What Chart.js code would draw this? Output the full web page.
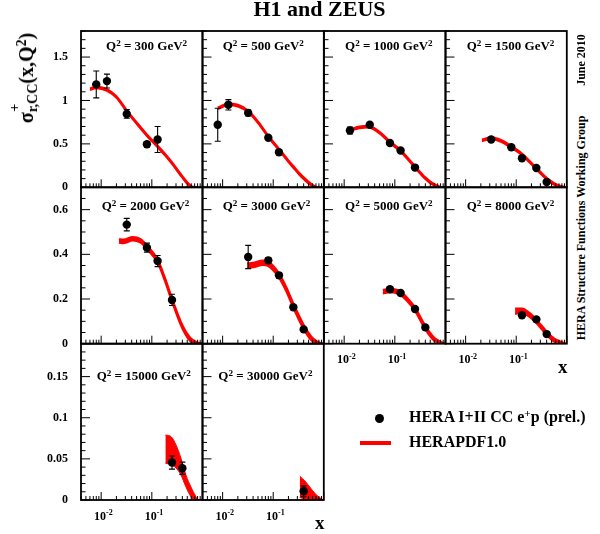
<!DOCTYPE html>
<html>
<head>
<meta charset="utf-8">
<title>H1 and ZEUS</title>
<script src="https://cdn.jsdelivr.net/npm/chart.js@4.4.1/dist/chart.umd.min.js"></script>
<style>
html,body{margin:0;padding:0;background:#fff;}
body{width:600px;height:534px;position:relative;overflow:hidden;font-family:'Liberation Serif','Times New Roman',serif;font-weight:bold;color:#000;}
canvas{position:absolute;}
.t{position:absolute;white-space:nowrap;line-height:1;}
.t sup,.rot sup{font-size:0.7em;vertical-align:0.48em;line-height:0;}
.rot{position:absolute;white-space:nowrap;line-height:1;transform:translate(-50%,-50%) rotate(-90deg);}
.ss{position:relative;display:inline-block;line-height:1;}
.ssb{font-size:0.7em;position:relative;top:0.3em;}
.ssp{position:absolute;left:0.05em;top:-0.55em;font-size:0.7em;}
</style>
</head>
<body>
<script>
// ---------------- DATA ----------------
const Q2 = [300, 500, 1000, 1500, 2000, 3000, 5000, 8000, 15000, 30000];

// HERA I+II CC e+p (prel.) : x, reduced cross section, error
const x300 = [0.008, 0.013, 0.032, 0.08, 0.13];
const s300 = [1.185, 1.223, 0.845, 0.496, 0.55];
const e300 = [0.155, 0.08, 0.05, 0.03, 0.15];

const x500 = [0.008, 0.013, 0.032, 0.08, 0.13];
const s500 = [0.72, 0.95, 0.857, 0.57, 0.404];
const e500 = [0.19, 0.06, 0.035, 0.02, 0.03];

const x1000 = [0.013, 0.032, 0.08, 0.13, 0.25];
const s1000 = [0.654, 0.72, 0.51, 0.423, 0.227];
const e1000 = [0.04, 0.02, 0.02, 0.02, 0.02];

const x1500 = [0.032, 0.08, 0.13, 0.25, 0.4];
const s1500 = [0.55, 0.461, 0.334, 0.223, 0.061];
const e1500 = [0.02, 0.02, 0.02, 0.02, 0.02];

const x2000 = [0.032, 0.08, 0.13, 0.25];
const s2000 = [0.533, 0.43, 0.37, 0.196];
const e2000 = [0.028, 0.02, 0.025, 0.025];

const x3000 = [0.032, 0.08, 0.13, 0.25, 0.4];
const s3000 = [0.388, 0.373, 0.306, 0.163, 0.064];
const e3000 = [0.052, 0.013, 0.013, 0.01, 0.01];

const x5000 = [0.08, 0.13, 0.25, 0.4];
const s5000 = [0.244, 0.227, 0.155, 0.073];
const e5000 = [0.012, 0.008, 0.008, 0.008];

const x8000 = [0.13, 0.25, 0.4];
const s8000 = [0.127, 0.109, 0.043];
const e8000 = [0.01, 0.01, 0.01];

const x15000 = [0.25, 0.4];
const s15000 = [0.0455, 0.0386];
const e15000 = [0.008, 0.0075];

const x30000 = [0.4];
const s30000 = [0.0106];
const e30000 = [0.0066];

// HERAPDF1.0 band : x, lower edge, upper edge
const bx300 = [0.006, 0.008, 0.013, 0.02, 0.032, 0.05, 0.08, 0.13, 0.2, 0.25, 0.4, 0.5, 0.62, 0.8];
const bhi300 = [1.14, 1.16, 1.13, 1.05, 0.89, 0.75, 0.61, 0.48, 0.36, 0.29, 0.13, 0.06, 0.01, 0];
const blo300 = [1.12, 1.14, 1.11, 1.03, 0.87, 0.73, 0.59, 0.46, 0.34, 0.27, 0.11, 0.04, 0, 0];

const bx500 = [0.008, 0.013, 0.02, 0.032, 0.05, 0.08, 0.13, 0.2, 0.25, 0.325, 0.4, 0.55, 0.72, 0.9];
const bhi500 = [0.92, 0.965, 0.95, 0.885, 0.76, 0.595, 0.445, 0.31, 0.245, 0.168, 0.115, 0.045, 0.005, 0];
const blo500 = [0.90, 0.945, 0.93, 0.865, 0.74, 0.575, 0.425, 0.29, 0.225, 0.148, 0.095, 0.025, 0, 0];

const bx1000 = [0.014, 0.02, 0.03, 0.05, 0.08, 0.13, 0.25, 0.4, 0.55, 0.8, 0.95];
const bhi1000 = [0.675, 0.70, 0.71, 0.64, 0.53, 0.43, 0.245, 0.115, 0.05, 0.005, 0];
const blo1000 = [0.655, 0.68, 0.69, 0.62, 0.51, 0.41, 0.225, 0.095, 0.03, 0, 0];

const bx1500 = [0.021, 0.032, 0.05, 0.08, 0.13, 0.25, 0.4, 0.6, 0.9, 1.0];
const bhi1500 = [0.55, 0.575, 0.545, 0.475, 0.39, 0.225, 0.11, 0.04, 0.005, 0];
const blo1500 = [0.53, 0.555, 0.525, 0.455, 0.37, 0.205, 0.09, 0.02, 0, 0];

const bx2000 = [0.0224, 0.028, 0.042, 0.06, 0.08, 0.13, 0.18, 0.25, 0.4, 0.6, 0.86, 1.0];
const bhi2000 = [0.468, 0.466, 0.478, 0.468, 0.44, 0.378, 0.298, 0.204, 0.084, 0.022, 0.003, 0];
const blo2000 = [0.452, 0.450, 0.462, 0.452, 0.424, 0.362, 0.282, 0.188, 0.068, 0.008, 0, 0];

const bx3000 = [0.0306, 0.04, 0.062, 0.08, 0.13, 0.18, 0.25, 0.4, 0.6, 0.86, 1.0];
const bhi3000 = [0.36, 0.362, 0.372, 0.367, 0.315, 0.255, 0.18, 0.085, 0.026, 0.003, 0];
const blo3000 = [0.34, 0.342, 0.352, 0.347, 0.295, 0.235, 0.16, 0.065, 0.01, 0, 0];

const bx5000 = [0.058, 0.08, 0.1, 0.13, 0.18, 0.25, 0.4, 0.6, 0.9, 1.0];
const bhi5000 = [0.241, 0.246, 0.244, 0.233, 0.203, 0.163, 0.080, 0.027, 0.003, 0];
const blo5000 = [0.225, 0.230, 0.228, 0.217, 0.187, 0.147, 0.064, 0.013, 0, 0];

const bx8000 = [0.095, 0.13, 0.18, 0.25, 0.4, 0.6, 0.95, 1.0];
const bhi8000 = [0.157, 0.157, 0.139, 0.108, 0.055, 0.019, 0.002, 0];
const blo8000 = [0.133, 0.137, 0.121, 0.092, 0.039, 0.005, 0, 0];

const bx15000 = [0.185, 0.24, 0.3, 0.375, 0.47, 0.59, 0.67, 0.86, 1.0];
const bhi15000 = [0.079, 0.077, 0.067, 0.051, 0.0305, 0.016, 0.009, 0, 0];
const blo15000 = [0.0447, 0.043, 0.039, 0.0305, 0.016, 0.004, 0, 0, 0];

const bx30000 = [0.335, 0.44, 0.59, 0.75, 0.93, 1.0];
const bhi30000 = [0.029, 0.022, 0.012, 0.005, 0.001, 0];
const blo30000 = [0.003, 0.001, 0, 0, 0, 0];

// axes
const yMaxRow = [1.8, 0.7, 0.19];
const yTicksRow = [[0, 0.5, 1, 1.5], [0, 0.2, 0.4, 0.6], [0, 0.05, 0.1, 0.15]];
const yTickLabelsRow = [['0', '0.5', '1', '1.5'], ['0', '0.2', '0.4', '0.6'], ['0', '0.05', '0.1', '0.15']];
const yMinorRow = [0.1, 0.05, 0.01];
const xMin = 0.004, xMax = 1;
const xTicks = [0.01, 0.1];
const xTickLabels = [['10', '-2'], ['10', '-1']];

// ---------------- LAYOUT / STYLE ----------------
const RED = '#ff0000';
const FONT = "'Liberation Serif','Times New Roman',serif";
const gridLeft = 81, colW = 121.5;
const rowTops = [31, 187.3, 343.7, 500];
const labelLeft = [106, 222.7, 345, 466.7, 101.7, 222.7, 345, 466.7, 96.7, 218.3];
const labelBase = [49.5, 210, 379.5];

const panels = [
  {q: Q2[0], px: x300, py: s300, pe: e300, bx: bx300, lo: blo300, hi: bhi300},
  {q: Q2[1], px: x500, py: s500, pe: e500, bx: bx500, lo: blo500, hi: bhi500},
  {q: Q2[2], px: x1000, py: s1000, pe: e1000, bx: bx1000, lo: blo1000, hi: bhi1000},
  {q: Q2[3], px: x1500, py: s1500, pe: e1500, bx: bx1500, lo: blo1500, hi: bhi1500},
  {q: Q2[4], px: x2000, py: s2000, pe: e2000, bx: bx2000, lo: blo2000, hi: bhi2000},
  {q: Q2[5], px: x3000, py: s3000, pe: e3000, bx: bx3000, lo: blo3000, hi: bhi3000},
  {q: Q2[6], px: x5000, py: s5000, pe: e5000, bx: bx5000, lo: blo5000, hi: bhi5000},
  {q: Q2[7], px: x8000, py: s8000, pe: e8000, bx: bx8000, lo: blo8000, hi: bhi8000},
  {q: Q2[8], px: x15000, py: s15000, pe: e15000, bx: bx15000, lo: blo15000, hi: bhi15000},
  {q: Q2[9], px: x30000, py: s30000, pe: e30000, bx: bx30000, lo: blo30000, hi: bhi30000}
];

function addText(html, x, baseline, size, align, cls) {
  const d = document.createElement('div');
  d.className = cls || 't';
  d.innerHTML = html;
  d.style.fontSize = size + 'px';
  d.style.left = x + 'px';
  d.style.top = (baseline - 0.8375 * size) + 'px';
  if (align === 'center') d.style.transform = 'translateX(-50%)';
  if (align === 'right') d.style.transform = 'translateX(-100%)';
  document.body.appendChild(d);
  return d;
}
function addRot(html, cx, cy, size) {
  const d = document.createElement('div');
  d.className = 'rot';
  d.innerHTML = html;
  d.style.fontSize = size + 'px';
  d.style.left = cx + 'px';
  d.style.top = cy + 'px';
  document.body.appendChild(d);
  return d;
}

function makePlugin(p, row, showX) {
  return {
    id: 'rootAxes',
    afterDatasetsDraw(chart) {
      const {ctx, scales: {x, y}} = chart;
      ctx.save();
      ctx.strokeStyle = '#000';
      ctx.lineWidth = 1.1;
      p.px.forEach((xv, i) => {
        const X = x.getPixelForValue(xv);
        const yt = y.getPixelForValue(p.py[i] + p.pe[i]);
        const yb = y.getPixelForValue(p.py[i] - p.pe[i]);
        if (yb - yt < 5) return;
        ctx.beginPath();
        ctx.moveTo(X, yt); ctx.lineTo(X, yb);
        ctx.moveTo(X - 3, yt); ctx.lineTo(X + 3, yt);
        ctx.moveTo(X - 3, yb); ctx.lineTo(X + 3, yb);
        ctx.stroke();
      });
      ctx.restore();
    },
    afterDraw(chart) {
      const {ctx, chartArea: a, scales: {x, y}} = chart;
      ctx.save();
      ctx.strokeStyle = '#000';
      ctx.lineWidth = 1;
      ctx.beginPath();
      const maj = yTicksRow[row][1];
      const mn = yMinorRow[row];
      for (let k = 0; k * mn <= y.max + 1e-9; k++) {
        const v = k * mn;
        const Y = y.getPixelForValue(v);
        const isMaj = Math.abs(v / maj - Math.round(v / maj)) < 1e-6;
        ctx.moveTo(a.left, Y); ctx.lineTo(a.left + (isMaj ? 9 : 4.5), Y);
      }
      for (let n = -3; n <= 0; n++) {
        for (let k = 1; k <= 9; k++) {
          const v = k * Math.pow(10, n);
          if (v < x.min * 0.999 || v > x.max * 1.001) continue;
          const X = x.getPixelForValue(v);
          ctx.moveTo(X, a.bottom); ctx.lineTo(X, a.bottom - (k === 1 ? 8 : 4));
        }
      }
      ctx.stroke();
      ctx.lineWidth = 1.8;
      ctx.strokeRect(a.left, a.top, a.right - a.left, a.bottom - a.top);
      if (showX) {
        ctx.fillStyle = '#000';
        ctx.textBaseline = 'alphabetic';
        xTicks.forEach((v, i) => {
          const X = x.getPixelForValue(v);
          ctx.font = 'bold 12px ' + FONT;
          ctx.textAlign = 'right';
          ctx.fillText(xTickLabels[i][0], X + 4.8, a.bottom + 19.5);
          ctx.font = 'bold 8px ' + FONT;
          ctx.textAlign = 'left';
          ctx.fillText(xTickLabels[i][1], X + 4.8, a.bottom + 15);
        });
      }
      ctx.restore();
    }
  };
}

panels.forEach((p, i) => {
  const row = Math.floor(i / 4), col = i % 4;
  const left = gridLeft + col * colW, right = left + colW;
  const top = rowTops[row], bottom = rowTops[row + 1];
  const cL = Math.floor(left) - 50, cT = Math.floor(top) - 6;
  const cR = Math.ceil(right) + 4, cB = Math.ceil(bottom) + 28;
  const cv = document.createElement('canvas');
  cv.width = cR - cL; cv.height = cB - cT;
  cv.style.left = cL + 'px'; cv.style.top = cT + 'px';
  document.body.appendChild(cv);
  const axisW = left - cL, axisH = cB - bottom;
  const showX = (i >= 6);
  const bw = row === 2 ? 1 : 2;
  const zeroPad = s => { s.paddingTop = 0; s.paddingBottom = 0; s.paddingLeft = 0; s.paddingRight = 0; };
  new Chart(cv, {
    type: 'line',
    data: {
      datasets: [
        {
          label: 'HERA I+II CC e+p (prel.)',
          data: p.px.map((v, k) => ({x: v, y: p.py[k]})),
          showLine: false, pointRadius: 4.2, pointBackgroundColor: '#000',
          pointBorderWidth: 0, pointHoverRadius: 4.2
        },
        {
          label: 'HERAPDF1.0 upper',
          data: p.bx.map((v, k) => ({x: v, y: p.hi[k]})),
          borderColor: RED, backgroundColor: RED, borderWidth: bw, pointRadius: 0,
          fill: '+1', cubicInterpolationMode: 'monotone', clip: 0
        },
        {
          label: 'HERAPDF1.0 lower',
          data: p.bx.map((v, k) => ({x: v, y: p.lo[k]})),
          borderColor: RED, backgroundColor: RED, borderWidth: bw, pointRadius: 0,
          fill: false, cubicInterpolationMode: 'monotone', clip: 0
        }
      ]
    },
    options: {
      responsive: false, animation: false, devicePixelRatio: 1, events: [],
      layout: {padding: {left: 0, top: top - cT, right: cR - right, bottom: 0}},
      plugins: {legend: {display: false}, tooltip: {enabled: false}},
      scales: {
        x: {
          type: 'logarithmic', min: xMin, max: xMax,
          afterBuildTicks: s => { s.ticks = xTicks.map(v => ({value: v})); },
          afterFit: s => { s.height = axisH; zeroPad(s); },
          ticks: {display: false},
          grid: {display: false, drawTicks: false},
          border: {display: false}
        },
        y: {
          type: 'linear', min: 0, max: yMaxRow[row],
          afterBuildTicks: s => { s.ticks = yTicksRow[row].map(v => ({value: v})); },
          afterFit: s => { s.width = axisW; zeroPad(s); },
          ticks: {
            display: col === 0, padding: 13, color: '#000', autoSkip: false,
            font: {family: FONT, weight: 'bold', size: 12},
            callback: (v, k) => yTickLabelsRow[row][k]
          },
          grid: {display: false, drawTicks: false},
          border: {display: false}
        }
      }
    },
    plugins: [makePlugin(p, row, showX)]
  });
  addText('Q<sup>2</sup> = ' + p.q + ' GeV<sup>2</sup>', labelLeft[i], labelBase[row], 13, 'left');
});

// titles & annotations
addText('H1 and ZEUS', 319.5, 16.5, 22, 'center');
addText('x', 567.5, 373, 19, 'right');
addText('x', 324.5, 529, 19, 'right');
addRot('&sigma;<span class="ss"><span class="ssb">r,CC</span><span class="ssp">+</span></span>(x,Q<sup>2</sup>)', 26.3, 78, 20);
addRot('June 2010', 581, 60, 12);
addRot('HERA Structure Functions Working Group', 581, 227.5, 12);

// legend
const dot = document.createElement('div');
dot.style.cssText = 'position:absolute;left:374.5px;top:413.5px;width:9px;height:9px;border-radius:50%;background:#000;';
document.body.appendChild(dot);
const bar = document.createElement('div');
bar.style.cssText = 'position:absolute;left:360px;top:440.5px;width:31px;height:4px;background:' + RED + ';';
document.body.appendChild(bar);
addText('HERA I+II CC e<sup>+</sup>p (prel.)', 409, 422.7, 16, 'left');
addText('HERAPDF1.0', 409, 447.7, 16, 'left');
</script>
</body>
</html>
